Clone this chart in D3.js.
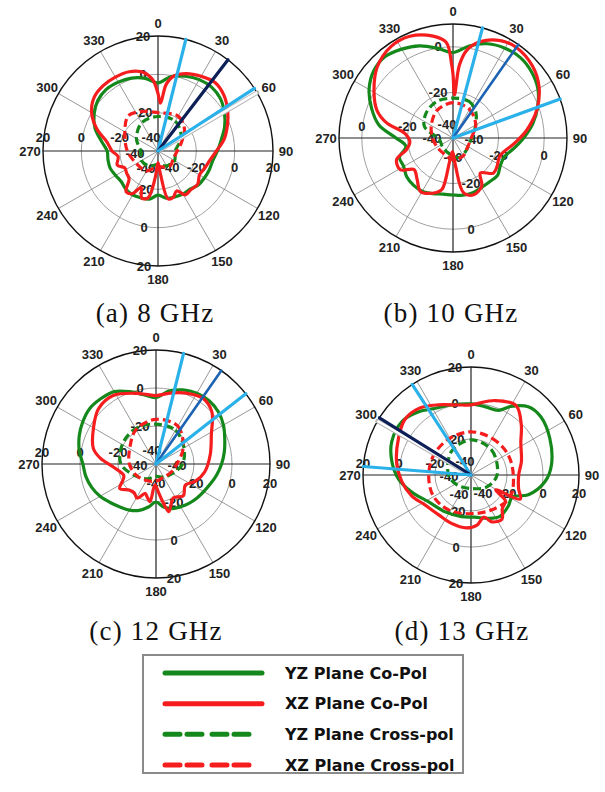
<!DOCTYPE html>
<html>
<head>
<meta charset="utf-8">
<script src="https://cdn.jsdelivr.net/npm/d3@7"></script>
<style>
  body { margin: 0; background: #fff; }
</style>
</head>
<body>
<div id="chartContainer"></div>
<script>
// Page size
const width = 605;
const height = 792;

// Angle ticks (deg) used by every polar plot
const angleTicks = [0, 30, 60, 90, 120, 150, 180, 210, 240, 270, 300, 330];

// Radial tick labels (dB)
const radTicksA = [-40, -20, 0, 20];
const radTicksB = [-40, -20, 0];

// Series: [angle deg, gain dB]
// (a) 8 GHz
const yzCo8 = [[0,-4.5],[10,-0.5],[20,1.5],[30,3],[40,3.5],[50,2.5],[60,0],[70,-3],[80,-6.5],[90,-9],[100,-11],[110,-11.5],[120,-12],[130,-12.5],[140,-14],[150,-14],[160,-14.5],[170,-15],[180,-17],[190,-14.5],[200,-14],[210,-13.5],[220,-14],[230,-15],[240,-14.5],[250,-13.5],[260,-13.5],[270,-13.5],[280,-10],[290,-5],[300,-1.5],[310,1],[320,2],[330,1.5],[340,0.5],[350,-1.5]];
const xzCo8 = [[0,-10],[3,-15],[7,-5],[12,0],[20,3],[30,5],[40,6.5],[50,5],[60,2],[70,-1.5],[80,-5],[90,-9.5],[100,-12.5],[110,-14],[120,-15],[130,-13],[140,-13.5],[148,-13],[155,-17],[162,-14.5],[168,-14.5],[174,-28],[180,-34],[186,-26],[192,-15],[199,-14],[205,-19],[211,-14],[218,-13],[226,-19],[235,-20],[243,-20.5],[251,-17.5],[262,-19],[270,-16],[280,-13],[290,-6],[300,0],[310,3.5],[320,4.5],[330,4.5],[340,4],[350,1.5],[356,-3]];
const yzX8 = [[0,-22],[30,-22],[60,-26],[90,-31],[120,-30],[150,-31],[180,-33],[210,-31],[240,-30],[270,-31],[300,-27],[330,-23]];
const xzX8 = [[0,-20],[30,-19],[50,-22],[70,-27],[90,-30],[120,-31],[140,-30],[160,-31],[180,-32],[210,-28],[240,-27],[270,-24],[300,-20],[320,-16],[340,-18]];

// (b) 10 GHz
const yzCo10 = [[0,-2.5],[10,1],[20,4],[30,5.5],[40,6],[50,5],[60,3],[70,-0.5],[80,-4.5],[90,-9],[100,-13],[110,-16],[120,-16],[130,-14.5],[140,-15],[150,-15],[160,-14.5],[170,-14.5],[180,-15],[190,-15],[200,-14],[210,-13],[220,-13],[230,-13.5],[240,-15],[250,-15],[260,-19],[270,-15],[280,-7],[290,-2],[300,2.5],[310,5.5],[320,6.5],[330,5],[340,3],[350,0]];
const xzCo10 = [[0,-12],[2,-21],[5,-8],[9,-1],[16,4],[26,7.5],[35,8.5],[48,7],[59,4],[71,-1],[84,-7.5],[95,-13],[111,-18],[123,-17],[131,-16.5],[142,-20.5],[149,-15.5],[160,-13.5],[169,-15.5],[175,-28],[182,-34],[188,-30],[192,-17],[197,-15],[211,-12.5],[221,-16],[231,-18],[239,-13],[249,-13.5],[256,-19],[265,-21],[275,-19],[283,-10],[290,-4.5],[300,0],[313,5.5],[326,8.5],[337,8.5],[349,5.5],[356,2],[359,-8]];
const yzX10 = [[0,-22.5],[24,-22.5],[42,-25],[76,-30.5],[107,-32.5],[135,-32],[163,-31],[195,-33],[230,-34],[263,-34],[292,-26.5],[312,-24],[335,-22.5]];
const xzX10 = [[0,-24.5],[30,-25.5],[60,-28.5],[90,-32],[120,-32.5],[150,-31],[180,-30.5],[210,-32],[240,-32],[270,-31],[300,-29],[330,-26]];

// (c) 12 GHz
const yzCo12 = [[0,-5],[10,-1],[20,1.5],[30,3],[40,3.5],[50,2.8],[60,1],[70,-1.5],[80,-3.5],[90,-5.5],[100,-7.5],[110,-9.5],[120,-11],[130,-12],[140,-13],[150,-14],[160,-15],[170,-17],[180,-20],[190,-17],[200,-14],[210,-12],[220,-10.5],[230,-8.5],[240,-6],[250,-4],[260,-2.5],[270,-1.5],[280,1],[290,3],[300,4.5],[310,5.5],[320,5],[330,4],[340,0.5],[350,-3]];
const xzCo12 = [[0,-4],[11,-2],[23,0.5],[36,2.5],[47,0.2],[62,-7],[80,-11],[99,-14],[114,-17.5],[126,-21],[139,-18],[153,-20],[160,-17],[165,-14],[170,-20],[175,-25],[183,-29],[189,-20],[195,-22],[200,-23.5],[209,-19.5],[217,-21],[225,-20.5],[236,-17],[245,-21],[251,-22],[266,-17.5],[276,-10.5],[284,-6],[300,-2],[314,2],[328,2.5],[345,-1.5],[352,-3]];
const yzX12 = [[0,-19],[30,-19.5],[60,-23],[90,-26],[120,-30],[150,-32],[180,-33.5],[210,-31],[240,-27.5],[270,-21.5],[300,-19.5],[330,-18.5]];
const xzX12 = [[0,-16.5],[30,-17],[60,-23.5],[90,-29],[120,-31],[150,-32],[180,-31],[210,-30],[240,-28],[270,-26],[300,-24],[330,-19]];

// (d) 13 GHz
const yzCo13 = [[0,-0.5],[12,-1.3],[23,-1],[30,4],[40,9.5],[50,10.5],[65,8.3],[83,5],[95,1.3],[109,-6.3],[118,-14],[130,-13],[145,-12],[158,-14],[175,-16.5],[193,-16.3],[215,-15],[238,-12],[254,-5.7],[267,0.4],[280,4.7],[293,7.8],[308,8.5],[320,5.7],[332,2],[345,0.4]];
const xzCo13 = [[0,-1],[18,3.5],[33,6],[45,-0.5],[57,-7],[75,-11],[90,-13.5],[106,-12.5],[116,-9.5],[121,-24],[127,-16],[137,-14.5],[145,-10],[156,-11.5],[163,-15.5],[173,-12],[185,-10.5],[202,-11],[219,-11.5],[237,-9.5],[251,-5],[265,-1.3],[280,2],[297,5.2],[310,8],[322,7],[335,3],[350,-0.5]];
const yzX13 = [[0,-20.5],[40,-22],[90,-25.5],[127,-29],[180,-32.5],[235,-30.5],[270,-27.5],[320,-23]];
const xzX13 = [[0,-16],[30,-16.5],[60,-16.5],[90,-16.5],[120,-15],[150,-17.5],[180,-18.5],[210,-17],[240,-16],[270,-16.5],[300,-16.5],[330,-16.5]];

// Marker rays: [angle deg, kind]
const rays8 = [[59.5,"ghost"],[14,"light"],[37.5,"navy"],[57,"light"]];
const rays10 = [[15,"light"],[35,"mid"],[70,"light"]];
const rays12 = [[14,"light"],[35,"mid"],[52,"light"]];
const rays13 = [[300,"ghost"],[327,"light"],[302,"navy"],[274.5,"light"]];

// Legend and captions
const legendLabels = ["YZ Plane Co-Pol", "XZ Plane Co-Pol", "YZ Plane Cross-pol", "XZ Plane Cross-pol"];
const captions = ["(a) 8 GHz", "(b) 10 GHz", "(c) 12 GHz", "(d) 13 GHz"];

const green = "#15881c";
const red = "#f51d1d";
const rayColors = { light: "#2bb1ea", navy: "#0c1f57", mid: "#1d63b3", ghost: "#b9b9b9" };
const rayWidths = { light: 3.2, navy: 3.2, mid: 2.6, ghost: 4.5 };

const svg = d3.select("#chartContainer")
  .append("svg")
  .attr("width", width)
  .attr("height", height)
  .style("font-family", "'Liberation Sans', Arial, sans-serif");

// Draw one polar plot
function drawPolar(p) {
  const g = svg.append("g").attr("transform", `translate(${p.cx},${p.cy})`);
  const r = d3.scaleLinear().domain([-40, p.max]).range([0, p.R]).clamp(true);
  const rad = d => d * Math.PI / 180;

  // inner grid rings
  p.rings.forEach(v => {
    g.append("circle").attr("r", r(v))
      .attr("fill", "none").attr("stroke", "#a0a0a0").attr("stroke-width", 1);
  });

  // spokes
  g.selectAll(".spoke").data(angleTicks).enter().append("line")
    .attr("x1", 0).attr("y1", 0)
    .attr("x2", d => p.R * Math.sin(rad(d)))
    .attr("y2", d => -p.R * Math.cos(rad(d)))
    .attr("stroke", d => d % 90 === 0 ? "#222" : "#8c8c8c")
    .attr("stroke-width", d => d % 90 === 0 ? 1.2 : 0.9);

  // outer ring
  g.append("circle").attr("r", p.R)
    .attr("fill", "none").attr("stroke", "#111").attr("stroke-width", 1.4);

  // angle labels
  g.selectAll(".alabel").data(angleTicks).enter().append("text")
    .attr("x", d => (p.R + 13) * Math.sin(rad(d)))
    .attr("y", d => -(p.R + 13) * Math.cos(rad(d)))
    .attr("text-anchor", "middle").attr("dominant-baseline", "central")
    .attr("font-size", 13).attr("font-weight", "bold").attr("fill", "#222")
    .text(d => d);

  // radial labels on the four axes; the -40 ones sit round the centre
  const lab = (pos, t) => g.append("text").attr("x", pos[0]).attr("y", pos[1])
    .attr("text-anchor", "middle").attr("dominant-baseline", "central")
    .attr("font-size", 13).attr("font-weight", "bold").attr("fill", "#222").text(t);
  p.ticks.forEach(v => {
    const rv = r(v);
    if (v === -40) {
      p.centre.forEach(pos => lab(pos, v));
      return;
    }
    lab([p.topDx, -rv], v);
    lab([-rv, p.leftDy], v);
    lab([rv, p.rightDy], v);
    lab([p.botDx, rv], v);
  });

  // pattern curves
  const line = d3.lineRadial()
    .angle(d => rad(d[0]))
    .radius(d => r(d[1]))
    .curve(d3.curveCatmullRomClosed.alpha(0.5));

  const series = [
    { data: p.yzX, color: green, dash: "8,4" },
    { data: p.xzX, color: red, dash: "8,4" },
    { data: p.yzCo, color: green, dash: null },
    { data: p.xzCo, color: red, dash: null }
  ];
  series.forEach(s => {
    g.append("path").datum(s.data)
      .attr("d", line)
      .attr("fill", "none")
      .attr("stroke", s.color)
      .attr("stroke-width", 3.2)
      .attr("stroke-dasharray", s.dash)
      .attr("stroke-linejoin", "round");
  });

  // marker rays
  p.rays.forEach(([a, kind]) => {
    g.append("line")
      .attr("x1", 0).attr("y1", 0)
      .attr("x2", p.R * Math.sin(rad(a)))
      .attr("y2", -p.R * Math.cos(rad(a)))
      .attr("stroke", rayColors[kind])
      .attr("stroke-width", rayWidths[kind])
      .attr("stroke-linecap", "round");
    if (kind === "ghost") {
      g.append("line")
        .attr("x1", 0).attr("y1", 0)
        .attr("x2", p.R * Math.sin(rad(a)))
        .attr("y2", -p.R * Math.cos(rad(a)))
        .attr("stroke", "#fff").attr("stroke-width", 2.5);
    }
  });
}

const plots = [
  { cx: 158, cy: 151, R: 115, max: 20, rings: [-20, 0], ticks: radTicksA, topDx: -15, leftDy: -14, rightDy: 16, botDx: -14,
    centre: [[-7, -14], [-23, 2], [12, 16], [-12, 17]],
    yzCo: yzCo8, xzCo: xzCo8, yzX: yzX8, xzX: xzX8, rays: rays8 },
  { cx: 453, cy: 138, R: 114, max: 10, rings: [-20, 0], ticks: radTicksB, topDx: -15, leftDy: -12, rightDy: 17, botDx: 18,
    centre: [[-6, -14], [-21, 0], [21, 1], [0, 19]],
    yzCo: yzCo10, xzCo: xzCo10, yzX: yzX10, xzX: xzX10, rays: rays10 },
  { cx: 156, cy: 464, R: 114, max: 20, rings: [-20, 0], ticks: radTicksA, topDx: -16, leftDy: -12, rightDy: 19, botDx: 18,
    centre: [[-4, -14], [-18, 1], [21, 1], [0, 19]],
    yzCo: yzCo12, xzCo: xzCo12, yzX: yzX12, xzX: xzX12, rays: rays12 },
  { cx: 471, cy: 475, R: 108, max: 20, rings: [-20, 0], ticks: radTicksA, topDx: -16, leftDy: -12, rightDy: 18, botDx: -15,
    centre: [[-6, -14], [-22, 1], [12, 18], [-12, 19]],
    yzCo: yzCo13, xzCo: xzCo13, yzX: yzX13, xzX: xzX13, rays: rays13 }
];
plots.forEach(drawPolar);

// Captions under each plot
const capPos = [[155, 322], [451, 322], [156, 640], [462, 640]];
svg.selectAll(".caption").data(captions).enter().append("text")
  .attr("x", (d, i) => capPos[i][0])
  .attr("y", (d, i) => capPos[i][1])
  .attr("text-anchor", "middle")
  .attr("font-family", "'Liberation Serif', 'Times New Roman', serif")
  .attr("font-size", 27)
  .attr("letter-spacing", 1.2)
  .attr("fill", "#111")
  .text(d => d);

// Legend box
const legend = svg.append("g");
legend.append("rect")
  .attr("x", 143).attr("y", 655).attr("width", 320).attr("height", 118)
  .attr("fill", "#fff").attr("stroke", "#8a8a8a").attr("stroke-width", 2);

const legendStyle = [
  { color: green, dash: null },
  { color: red, dash: null },
  { color: green, dash: "15,7,15,10" },
  { color: red, dash: "15,7,15,10" }
];
const legendY = d3.scalePoint().domain(legendLabels).range([673, 765]);

legend.selectAll(".lline").data(legendLabels).enter().append("line")
  .attr("x1", 165).attr("x2", (d, i) => i < 2 ? 262 : 250)
  .attr("y1", d => legendY(d)).attr("y2", d => legendY(d))
  .attr("stroke", (d, i) => legendStyle[i].color)
  .attr("stroke-width", 5)
  .attr("stroke-linecap", "round")
  .attr("stroke-dasharray", (d, i) => legendStyle[i].dash);

legend.selectAll(".ltext").data(legendLabels).enter().append("text")
  .attr("x", 285)
  .attr("y", d => legendY(d))
  .attr("dominant-baseline", "central")
  .attr("font-family", "'DejaVu Sans', sans-serif")
  .attr("font-weight", "bold")
  .attr("font-size", 16)
  .attr("fill", "#111")
  .text(d => d);
</script>
</body>
</html>
